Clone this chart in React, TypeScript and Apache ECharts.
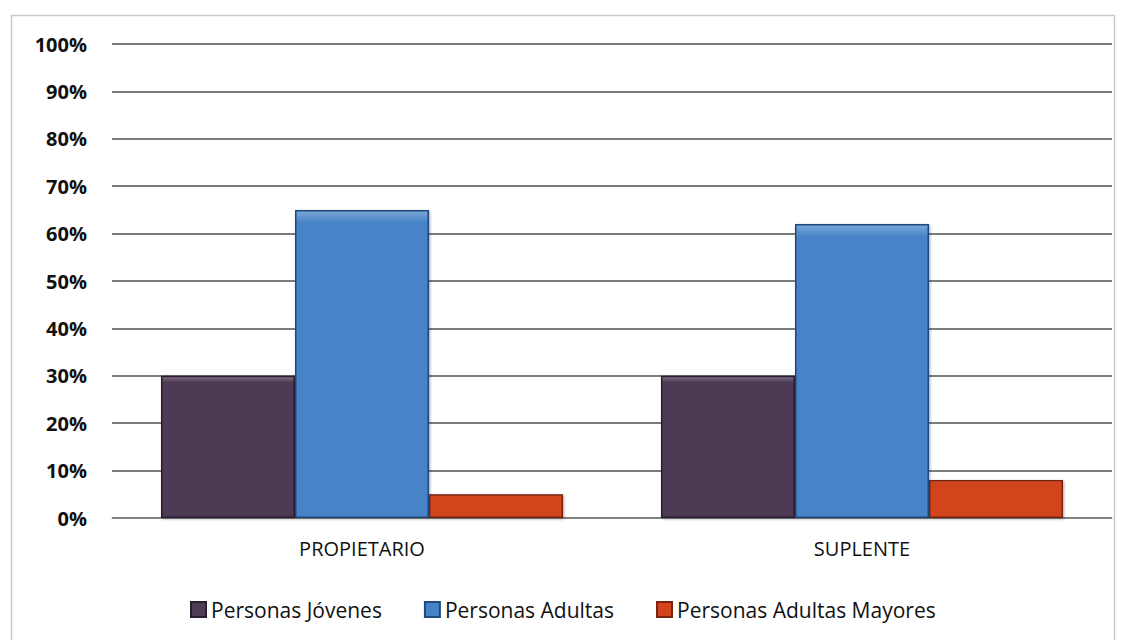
import React, { useEffect, useRef } from "react";
import * as echarts from "echarts";

const categories = ["PROPIETARIO", "SUPLENTE"];
const seriesNames = ["Personas Jóvenes", "Personas Adultas", "Personas Adultas Mayores"];
const jovenes = [30, 30];
const adultas = [65, 62];
const mayores = [5, 8];
const yTicks = [0, 10, 20, 30, 40, 50, 60, 70, 80, 90, 100];

const colors = ["#4E3B55", "#4683C6", "#D2451D"];
const borders = ["#2a1f30", "#1f4a80", "#7a2410"];

function grad(c: string) {
  return new echarts.graphic.LinearGradient(0, 0, 0, 1, [
    { offset: 0, color: echarts.color.lift(c, 0.3) },
    { offset: 0.04, color: c },
    { offset: 1, color: c },
  ]);
}

export default function App() {
  const ref = useRef<HTMLDivElement>(null);
  useEffect(() => {
    if (!ref.current) return;
    const chart = echarts.init(ref.current, null, { renderer: "svg" });
    const data = [jovenes, adultas, mayores];
    chart.setOption({
      animation: false,
      backgroundColor: "#ffffff",
      textStyle: { fontFamily: "Open Sans" },
      graphic: [
        {
          type: "rect",
          shape: { x: 11.5, y: 15.5, width: 1103, height: 640 },
          style: { fill: "none", stroke: "#c8c8c8", lineWidth: 1.5 },
          silent: true,
        },
      ],
      grid: { left: 112, right: 18, top: 44, bottom: 122 },
      legend: {
        data: seriesNames,
        top: 594,
        left: 185,
        itemWidth: 15,
        itemHeight: 15,
        itemGap: 42,
        icon: "rect",
        textStyle: { fontSize: 21, color: "#111", fontFamily: "Open Sans" },
      },
      xAxis: {
        type: "category",
        data: categories,
        axisLine: { show: true, lineStyle: { color: "#888", width: 1 } },
        axisTick: { show: false },
        axisLabel: { fontSize: 20, color: "#111", margin: 20, fontFamily: "Open Sans" },
      },
      yAxis: {
        type: "value",
        min: 0,
        max: 100,
        interval: 10,
        axisLine: { show: false },
        axisTick: { show: false },
        splitLine: { lineStyle: { color: "#505050", width: 1.5 } },
        axisLabel: {
          fontSize: 20,
          fontWeight: "bold",
          color: "#111",
          margin: 25,
          fontFamily: "Open Sans",
          formatter: (v: number) => (yTicks.includes(v) ? v + "%" : ""),
        },
      },
      series: seriesNames.map((name, i) => ({
        name,
        type: "bar",
        data: data[i],
        barGap: "0%",
        barCategoryGap: "19.6%",
        itemStyle: {
          color: grad(colors[i]),
          borderColor: borders[i],
          borderWidth: 1.5,
          shadowColor: "rgba(0,0,0,0.35)",
          shadowBlur: 3,
          shadowOffsetX: 1,
          shadowOffsetY: 1,
        },
      })),
      color: colors,
    });
    return () => chart.dispose();
  }, []);
  return (
    <div
      ref={ref}
      style={{ position: "fixed", left: 0, top: 0, width: 1130, height: 640 }}
    />
  );
}
